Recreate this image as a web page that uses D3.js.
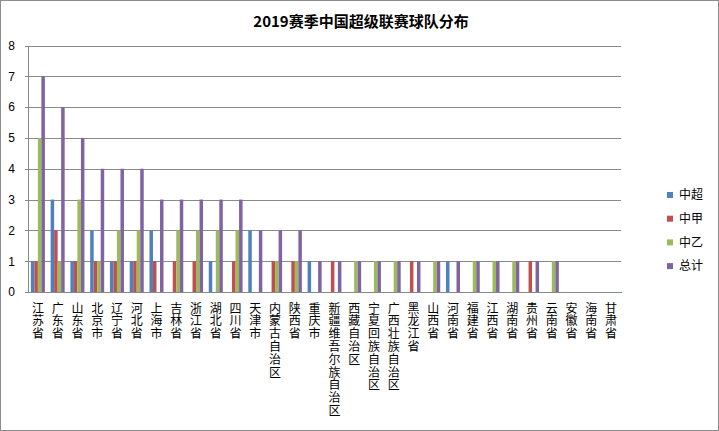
<!DOCTYPE html>
<html><head><meta charset="utf-8">
<script src="https://cdn.jsdelivr.net/npm/d3@7/dist/d3.min.js"></script>
<style>
html,body{margin:0;padding:0;background:#fff;}
svg{display:block;font-family:"Noto Sans CJK SC","Noto Sans",sans-serif;}
.vlab{writing-mode:vertical-rl;text-orientation:upright;}
</style></head>
<body><svg id="chart" width="719" height="431"></svg>
<script>
const title = "2019赛季中国超级联赛球队分布";
const categories = ["江苏省","广东省","山东省","北京市","辽宁省","河北省","上海市","吉林省","浙江省","湖北省","四川省","天津市","内蒙古自治区","陕西省","重庆市","新疆维吾尔族自治区","西藏自治区","宁夏回族自治区","广西壮族自治区","黑龙江省","山西省","河南省","福建省","江西省","湖南省","贵州省","云南省","安徽省","海南省","甘肃省"];
const seriesNames = ["中超","中甲","中乙","总计"];
const csl   = [1,3,1,2,1,1,2,0,0,1,0,2,0,0,1,0,0,0,0,0,0,1,0,0,0,0,0,0,0,0];
const cl1   = [1,2,1,1,1,1,1,1,1,0,1,0,1,1,0,1,0,0,0,1,0,0,0,0,0,1,0,0,0,0];
const cl2   = [5,1,3,1,2,2,0,2,2,2,2,0,1,1,0,0,1,1,1,0,1,0,1,1,1,0,1,0,0,0];
const total = [7,6,5,4,4,4,3,3,3,3,3,2,2,2,1,1,1,1,1,1,1,1,1,1,1,1,1,0,0,0];
const yTicks = [0,1,2,3,4,5,6,7,8];
const colors = ["#4F81BD","#C0504D","#9BBB59","#8064A2"];

const seriesValues = [csl, cl1, cl2, total];
const svg = d3.select("#chart");
const W = 719, H = 431;
svg.append("rect").attr("x",0.5).attr("y",0.5).attr("width",W-1).attr("height",H-1)
  .attr("fill","#fff").attr("stroke","#8c8c8c");

const m = {left:28, top:45.5, right:621, bottom:292};
const x = d3.scaleBand().domain(categories).range([m.left, m.right]).paddingInner(0.29).paddingOuter(0.145);
const xs = d3.scaleBand().domain(seriesNames).range([0, x.bandwidth()]);
const y = d3.scaleLinear().domain([0,8]).range([m.bottom, m.top]);

// gridlines
const grid = svg.append("g").attr("transform",`translate(${m.left},0)`)
  .call(d3.axisLeft(y).tickValues(yTicks).tickSize(-(m.right-m.left)).tickFormat(""));
grid.select(".domain").remove();
grid.selectAll("line").attr("stroke","#8a8a8a").attr("stroke-width",1)
  .attr("shape-rendering","crispEdges");

// bars
seriesNames.forEach((s,si)=>{
  svg.append("g").selectAll("rect").data(categories).join("rect")
    .attr("x", c => x(c) + xs(s))
    .attr("y", (c,i) => y(seriesValues[si][i]))
    .attr("width", xs.bandwidth())
    .attr("height", (c,i) => y(0) - y(seriesValues[si][i]))
    .attr("fill", colors[si]);
});

// y axis
const ya = svg.append("g").attr("transform",`translate(${m.left},0)`)
  .call(d3.axisLeft(y).tickValues(yTicks).tickSize(3).tickPadding(10));
ya.select(".domain").attr("stroke","#8a8a8a").attr("shape-rendering","crispEdges");
ya.selectAll("line").attr("stroke","#8a8a8a").attr("shape-rendering","crispEdges");
ya.selectAll("text").attr("font-family","'Liberation Sans',Arial,sans-serif").attr("font-size",12).attr("fill","#000");

// x axis
const xa = svg.append("g").attr("transform",`translate(0,${m.bottom})`)
  .call(d3.axisBottom(x).tickSize(0).tickFormat(""));
xa.select(".domain").attr("stroke","#8a8a8a").attr("shape-rendering","crispEdges");
svg.append("g").selectAll("text").data(categories).join("text")
  .attr("class","vlab")
  .attr("x", c => x(c) + x.bandwidth()/2)
  .attr("y", 302)
  .attr("font-size",12).attr("letter-spacing","0.8px").attr("fill","#000")
  .text(c => c);

// title
svg.append("text").attr("x",361).attr("y",27).attr("text-anchor","middle")
  .attr("font-size",15).attr("font-weight","bold").attr("fill","#000").text(title);

// legend
const lg = svg.append("g");
seriesNames.forEach((s,i)=>{
  const ly = 195 + i*23.7;
  lg.append("rect").attr("x",667).attr("y",ly-3).attr("width",6).attr("height",6).attr("fill",colors[i]);
  lg.append("text").attr("x",679).attr("y",ly).attr("dy","0.36em").attr("font-size",12).attr("fill","#000").text(s);
});
</script></body></html>
